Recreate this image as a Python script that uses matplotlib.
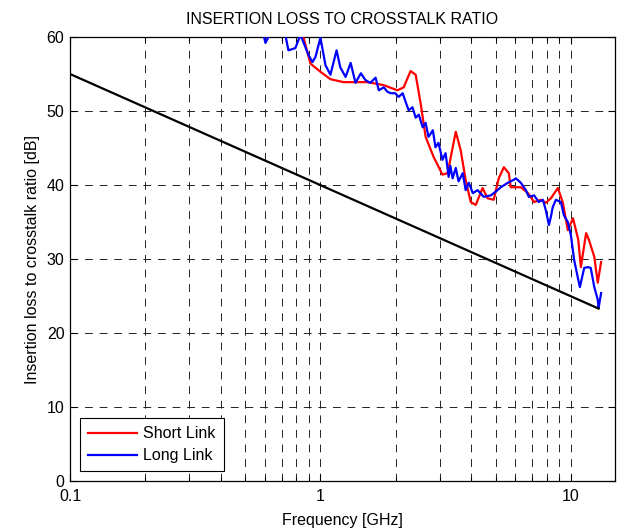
import matplotlib
matplotlib.use("Agg")
import matplotlib.pyplot as plt
from matplotlib.ticker import LogLocator, NullFormatter, FixedLocator, FixedFormatter

plt.rcParams['font.family'] = ['Liberation Sans', 'DejaVu Sans']

# Short link (red)
short_f = [0.80, 0.847, 0.912, 1.0, 1.096, 1.236, 1.542, 1.786, 2.03, 2.15, 2.29, 2.40, 2.51,
           2.63, 2.83, 3.07, 3.22, 3.47, 3.63, 3.80, 3.98, 4.17, 4.44, 4.65, 4.92, 5.15,
           5.40, 5.65, 5.75, 6.31, 6.74, 7.13, 7.59, 7.94, 8.32, 8.87, 9.29, 9.72, 10.2,
           10.7, 10.96, 11.5, 11.8, 12.4, 12.8, 13.2]
short_db = [63.0, 60.5, 56.4, 55.3, 54.3, 53.9, 53.9, 53.5, 52.8, 53.2, 55.4, 54.9, 51.1,
            46.5, 43.8, 41.4, 41.6, 47.2, 44.7, 40.7, 37.7, 37.3, 39.6, 38.2, 38.0, 40.9,
            42.4, 41.6, 39.7, 39.7, 38.9, 37.7, 38.0, 37.6, 38.2, 39.6, 37.6, 33.9, 35.5,
            32.6, 28.9, 33.5, 32.6, 30.3, 26.8, 29.6]

# Long link (blue)
long_f = [0.586, 0.603, 0.631, 0.724, 0.745, 0.794, 0.832, 0.895, 0.929, 0.955, 1.0, 1.047,
          1.096, 1.16, 1.20, 1.26, 1.32, 1.38, 1.45, 1.51, 1.58, 1.66, 1.71, 1.79, 1.85,
          1.91, 1.99, 2.05, 2.13, 2.19, 2.25, 2.33, 2.40, 2.47, 2.56, 2.63, 2.70, 2.81,
          2.88, 2.96, 3.07, 3.16, 3.25, 3.30, 3.37, 3.47, 3.56, 3.70, 3.80, 3.91, 4.06,
          4.24, 4.49, 4.79, 5.01, 5.25, 5.60, 5.91, 6.03, 6.31, 6.61, 6.79, 7.13, 7.44,
          7.73, 7.94, 8.17, 8.32, 8.46, 8.71, 9.12, 9.38, 9.72, 10.0, 10.3, 10.7, 10.86,
          11.3, 11.7, 12.0, 12.4, 12.8, 12.9, 13.2]
long_db = [61.0, 59.2, 60.5, 60.3, 58.2, 58.5, 60.3, 57.6, 56.6, 57.3, 59.9, 56.2,
           54.9, 58.2, 55.9, 54.6, 56.5, 53.8, 55.1, 54.2, 53.8, 54.5, 52.8, 53.2, 52.6,
           52.4, 52.4, 51.9, 52.4, 51.2, 50.1, 50.5, 49.1, 49.5, 47.8, 48.4, 46.5, 47.4,
           45.1, 45.7, 43.4, 44.3, 41.1, 42.6, 40.9, 42.3, 40.5, 41.6, 39.3, 40.3, 38.9,
           39.3, 38.4, 38.6, 39.1, 39.7, 40.3, 40.7, 40.9, 40.3, 39.3, 38.4, 38.6, 37.7,
           38.0, 36.6, 34.6, 35.7, 37.0, 38.0, 37.7, 35.9, 35.0, 33.2, 29.9, 27.2, 26.2,
           28.8, 28.9, 28.8, 26.2, 24.5, 23.4, 25.4]

# Limit line (black)
limit_f = [0.1, 12.9]
limit_db = [55.0, 23.3]

x_ticks = [0.1, 1, 10]
x_labels = ['0.1', '1', '10']
y_ticks = [0, 10, 20, 30, 40, 50, 60]

FS = 11.5

fig = plt.figure(figsize=(6.17, 5.29), dpi=100)
ax = fig.add_axes([70/617, 48/529, 545/617, 444/529])

ax.plot(short_f, short_db, color='#ff0000', lw=1.6, label='Short Link', zorder=3)
ax.plot(long_f, long_db, color='#0000ff', lw=1.6, label='Long Link', zorder=4)
ax.plot(limit_f, limit_db, color='black', lw=1.6, zorder=5)

ax.set_xscale('log')
ax.set_xlim(0.1, 15)
ax.set_ylim(0, 60)
ax.xaxis.set_major_locator(FixedLocator(x_ticks))
ax.xaxis.set_major_formatter(FixedFormatter(x_labels))
ax.xaxis.set_minor_locator(LogLocator(base=10, subs=range(2, 10)))
ax.xaxis.set_minor_formatter(NullFormatter())
ax.set_yticks(y_ticks)

grid_kw = dict(color='#222222', lw=0.7, linestyle=(0, (8, 7)))
ax.grid(True, which='major', axis='both', **grid_kw)
ax.grid(True, which='minor', axis='x', **grid_kw)

ax.tick_params(which='both', direction='in', top=True, right=True, labelsize=FS,
               color='black', width=0.8)
ax.tick_params(which='major', length=5)
ax.tick_params(which='minor', length=3)
ax.tick_params(axis='x', which='major', pad=6)
ax.tick_params(axis='y', which='major', pad=4)
for s in ax.spines.values():
    s.set_linewidth(0.9)

ax.set_title('INSERTION LOSS TO CROSSTALK RATIO', fontsize=FS, pad=9)
ax.set_xlabel('Frequency [GHz]', fontsize=FS, labelpad=6)
ax.set_ylabel('Insertion loss to crosstalk ratio [dB]', fontsize=FS, labelpad=5)

leg = ax.legend(loc='lower left', fontsize=FS, frameon=True, fancybox=False,
                edgecolor='black', framealpha=1, borderaxespad=0.6, handlelength=3.1,
                borderpad=0.5, labelspacing=0.45, handletextpad=0.4)
leg.get_frame().set_linewidth(0.8)

fig.savefig('out.png', dpi=100)
